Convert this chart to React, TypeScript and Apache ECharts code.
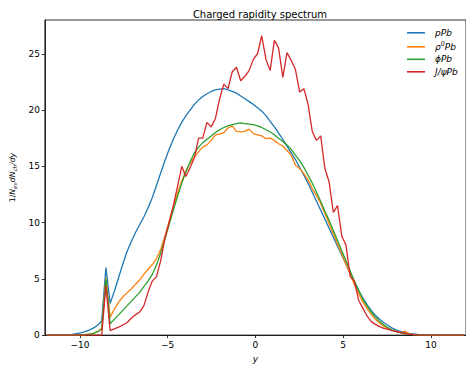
import React, { useEffect, useRef } from "react";
import * as echarts from "echarts";

// rapidity bin centres
const xs = [
  -11.88, -11.64, -11.4, -11.16, -10.92, -10.68, -10.44, -10.2, -9.96, -9.72,
  -9.48, -9.24, -9.0, -8.76, -8.52, -8.28, -8.04, -7.8, -7.56, -7.32,
  -7.08, -6.84, -6.6, -6.36, -6.12, -5.88, -5.64, -5.4, -5.16, -4.92,
  -4.68, -4.44, -4.2, -3.96, -3.72, -3.48, -3.24, -3.0, -2.76, -2.52,
  -2.28, -2.04, -1.8, -1.56, -1.32, -1.08, -0.84, -0.6, -0.36, -0.12,
  0.12, 0.36, 0.6, 0.84, 1.08, 1.32, 1.56, 1.8, 2.04, 2.28,
  2.52, 2.76, 3.0, 3.24, 3.48, 3.72, 3.96, 4.2, 4.44, 4.68,
  4.92, 5.16, 5.4, 5.64, 5.88, 6.12, 6.36, 6.6, 6.84, 7.08,
  7.32, 7.56, 7.8, 8.04, 8.28, 8.52, 8.76, 9.0, 9.24, 9.48,
  9.72, 9.96, 10.2, 10.44, 10.68, 10.92, 11.16, 11.4, 11.64, 11.88,
];

const pPb = [
  0, 0, 0, 0, 0.01, 0.03, 0.06, 0.12, 0.2, 0.3,
  0.45, 0.62, 0.85, 1.25, 6.0, 2.8, 3.9, 5.1, 6.3, 7.4,
  8.3, 9.1, 9.8, 10.5, 11.3, 12.2, 13.3, 14.4, 15.5, 16.5,
  17.4, 18.2, 18.9, 19.5, 20.0, 20.5, 20.9, 21.2, 21.45, 21.65,
  21.8, 21.85, 21.9, 21.8, 21.65, 21.5, 21.25, 21.0, 20.75, 20.5,
  20.2, 19.9, 19.5, 19.0, 18.5, 17.95, 17.4, 16.8, 16.2, 15.6,
  14.9, 14.2, 13.5, 12.7, 11.9, 11.1, 10.3, 9.5, 8.7, 7.9,
  7.1, 6.3, 5.5, 4.7, 3.95, 3.3, 2.7, 2.2, 1.75, 1.4,
  1.1, 0.85, 0.62, 0.45, 0.32, 0.22, 0.15, 0.1, 0.06, 0.04,
  0.02, 0.01, 0, 0, 0, 0, 0, 0, 0, 0,
];

const rho0Pb = [
  0, 0, 0, 0, 0, 0, 0, 0, 0.01, 0.03,
  0.08, 0.15, 0.3, 0.6, 5.1, 1.6, 2.3, 2.9, 3.4, 3.75,
  4.1, 4.5, 4.9, 5.4, 5.85, 6.25, 6.8, 7.6, 8.8, 10.1,
  11.4, 12.6, 13.7, 14.6, 15.3, 15.8, 16.3, 16.7, 16.9, 17.3,
  17.8, 17.85, 18.0, 18.4, 18.6, 18.1, 18.05, 18.1, 18.3, 17.9,
  17.8, 17.7, 17.45, 17.5, 17.3, 17.0, 16.8, 16.4, 16.0, 15.1,
  14.8, 14.35, 13.8, 13.0, 12.4, 11.7, 10.8, 9.9, 9.0, 8.1,
  7.2, 6.3, 5.4, 4.5, 3.7, 2.95, 2.35, 1.85, 1.4, 1.05,
  0.78, 0.57, 0.42, 0.3, 0.22, 0.35, 0.1, 0.05, 0.03, 0.01,
  0, 0, 0, 0, 0, 0, 0, 0, 0, 0,
];

const phiPb = [
  0, 0, 0, 0, 0, 0, 0, 0, 0.02, 0.04,
  0.08, 0.15, 0.3, 0.5, 5.0, 1.0, 1.4, 1.8, 2.2, 2.6,
  3.0, 3.4, 3.8, 4.3, 4.8, 5.4, 6.2, 7.3, 8.5, 9.8,
  11.1, 12.3, 13.5, 14.5, 15.4, 16.2, 16.7, 17.1, 17.4, 17.7,
  18.0, 18.25, 18.45, 18.6, 18.7, 18.8, 18.85, 18.8, 18.75, 18.7,
  18.6, 18.45, 18.25, 18.05, 17.8, 17.5, 17.2, 16.9, 16.5, 16.0,
  15.5, 14.9, 14.2, 13.5, 12.7, 11.9, 11.0, 10.2, 9.3, 8.4,
  7.5, 6.6, 5.7, 4.8, 4.0, 3.2, 2.6, 2.05, 1.6, 1.2,
  0.9, 0.65, 0.45, 0.3, 0.2, 0.12, 0.07, 0.04, 0.02, 0.01,
  0, 0, 0, 0, 0, 0, 0, 0, 0, 0,
];

const jpsiPb = [
  0, 0, 0, 0, 0, 0, 0, 0, 0, 0,
  0, 0, 0, 0, 4.4, 0.4, 0.55, 0.7, 0.9, 1.1,
  1.5, 1.8, 2.05, 2.6, 3.8, 4.8, 5.2, 6.6, 8.6, 10.0,
  11.5, 13.2, 15.0, 14.1, 14.9, 15.75, 17.5, 17.5, 18.9, 18.5,
  19.25, 21.0, 22.3, 21.9, 23.4, 23.8, 22.6, 23.0, 23.5, 24.5,
  25.0, 26.6, 24.5, 23.5, 26.2, 25.5, 22.9, 25.1, 24.4, 23.6,
  21.6, 21.9, 20.5, 18.1, 17.3, 17.7, 14.8, 13.6, 10.9, 11.5,
  8.8, 8.0, 5.2, 4.8, 3.1, 2.4, 1.7, 1.2, 0.95, 0.75,
  0.6, 0.5, 0.4, 0.32, 0.22, 0.15, 0.08, 0.04, 0.02, 0,
  0, 0, 0, 0, 0, 0, 0, 0, 0, 0,
];

const seriesNames = ["pPb", "ρ0Pb", "ϕPb", "J/ψPb"];
const seriesValues = [pPb, rho0Pb, phiPb, jpsiPb];
const seriesColors = ["#1f77b4", "#ff7f0e", "#2ca02c", "#d62728"];
const legendRich: Record<string, string> = {
  "pPb": "{i|pPb}",
  "ρ0Pb": "{i|ρ}{sup|0}{i|Pb}",
  "ϕPb": "{i|ϕPb}",
  "J/ψPb": "{i|J/ψPb}",
};
const xTicks = [-10, -5, 0, 5, 10];
const yTicks = [0, 5, 10, 15, 20, 25];
const titleText = "Charged rapidity spectrum";

const FONT = "DejaVu Sans";

export default function App() {
  const ref = useRef<HTMLDivElement>(null);
  useEffect(() => {
    document.body.style.margin = "0";
    const chart = echarts.init(ref.current!, null, { renderer: "svg" });
    const fmtTick = (v: number) => (v < 0 ? "\u2212" + Math.abs(v) : String(v));
    chart.setOption({
      animation: false,
      backgroundColor: "#fff",
      title: {
        text: titleText,
        left: 255,
        top: 4,
        textAlign: "center",
        textStyle: { fontFamily: FONT, fontSize: 10, fontWeight: "normal", color: "#000" },
      },
      grid: {
        show: true,
        left: 42.4,
        top: 20,
        width: 425.2,
        height: 319.5,
        borderColor: "#000",
        borderWidth: 0.8,
        backgroundColor: "transparent",
      },
      legend: {
        orient: "vertical",
        left: 407,
        top: 28.3,
        padding: 0,
        itemGap: 3.5,
        itemWidth: 18,
        itemHeight: 1.6,
        data: seriesNames.map((n) => ({ name: n, icon: "rect" })),
        formatter: (name: string) => legendRich[name] ?? name,
        textStyle: {
          padding: [0, 0, 0, 5],
          rich: {
            i: { fontFamily: FONT, fontStyle: "italic", fontSize: 9, lineHeight: 12, color: "#000" },
            sup: { fontFamily: FONT, fontStyle: "italic", fontSize: 6.3, lineHeight: 12, verticalAlign: "top", color: "#000" },
          },
        },
      },
      xAxis: {
        type: "value",
        min: -12,
        max: 12,
        name: "y",
        nameLocation: "middle",
        nameGap: 16.5,
        nameTextStyle: { fontFamily: FONT, fontStyle: "italic", fontSize: 9, color: "#000" },
        axisLine: { show: true, onZero: false, lineStyle: { color: "#000", width: 0.8 } },
        axisTick: { show: true, length: 3, customValues: xTicks, lineStyle: { color: "#000", width: 0.8 } },
        axisLabel: {
          customValues: xTicks,
          margin: 5,
          fontFamily: FONT,
          fontSize: 9,
          color: "#000",
          formatter: fmtTick,
        },
        splitLine: { show: false },
      },
      yAxis: {
        type: "value",
        min: 0,
        max: 28,
        name: "{n|1/}{i|N}{s|ev}{i|dN}{s|ch}{i|/dy}",
        nameLocation: "middle",
        nameRotate: 90,
        nameGap: 25.5,
        nameTextStyle: {
          rich: {
            n: { fontFamily: FONT, fontSize: 7.8, lineHeight: 11, color: "#000" },
            i: { fontFamily: FONT, fontStyle: "italic", fontSize: 7.8, lineHeight: 11, color: "#000" },
            s: { fontFamily: FONT, fontStyle: "italic", fontSize: 5.5, lineHeight: 11, verticalAlign: "bottom", color: "#000" },
          },
        },
        axisLine: { show: true, onZero: false, lineStyle: { color: "#000", width: 0.8 } },
        axisTick: { show: true, length: 3, customValues: yTicks, lineStyle: { color: "#000", width: 0.8 } },
        axisLabel: {
          customValues: yTicks,
          margin: 5,
          fontFamily: FONT,
          fontSize: 9,
          color: "#000",
          formatter: fmtTick,
        },
        splitLine: { show: false },
      },
      series: seriesNames.map((name, si) => ({
        name,
        type: "line",
        data: xs.map((x, i) => [x, seriesValues[si][i]]),
        symbol: "none",
        showSymbol: false,
        clip: true,
        color: seriesColors[si],
        lineStyle: { color: seriesColors[si], width: 1.3 },
        z: 2 + si,
      })),
    });
    return () => chart.dispose();
  }, []);
  return <div ref={ref} style={{ width: 466, height: 368 }} />;
}
